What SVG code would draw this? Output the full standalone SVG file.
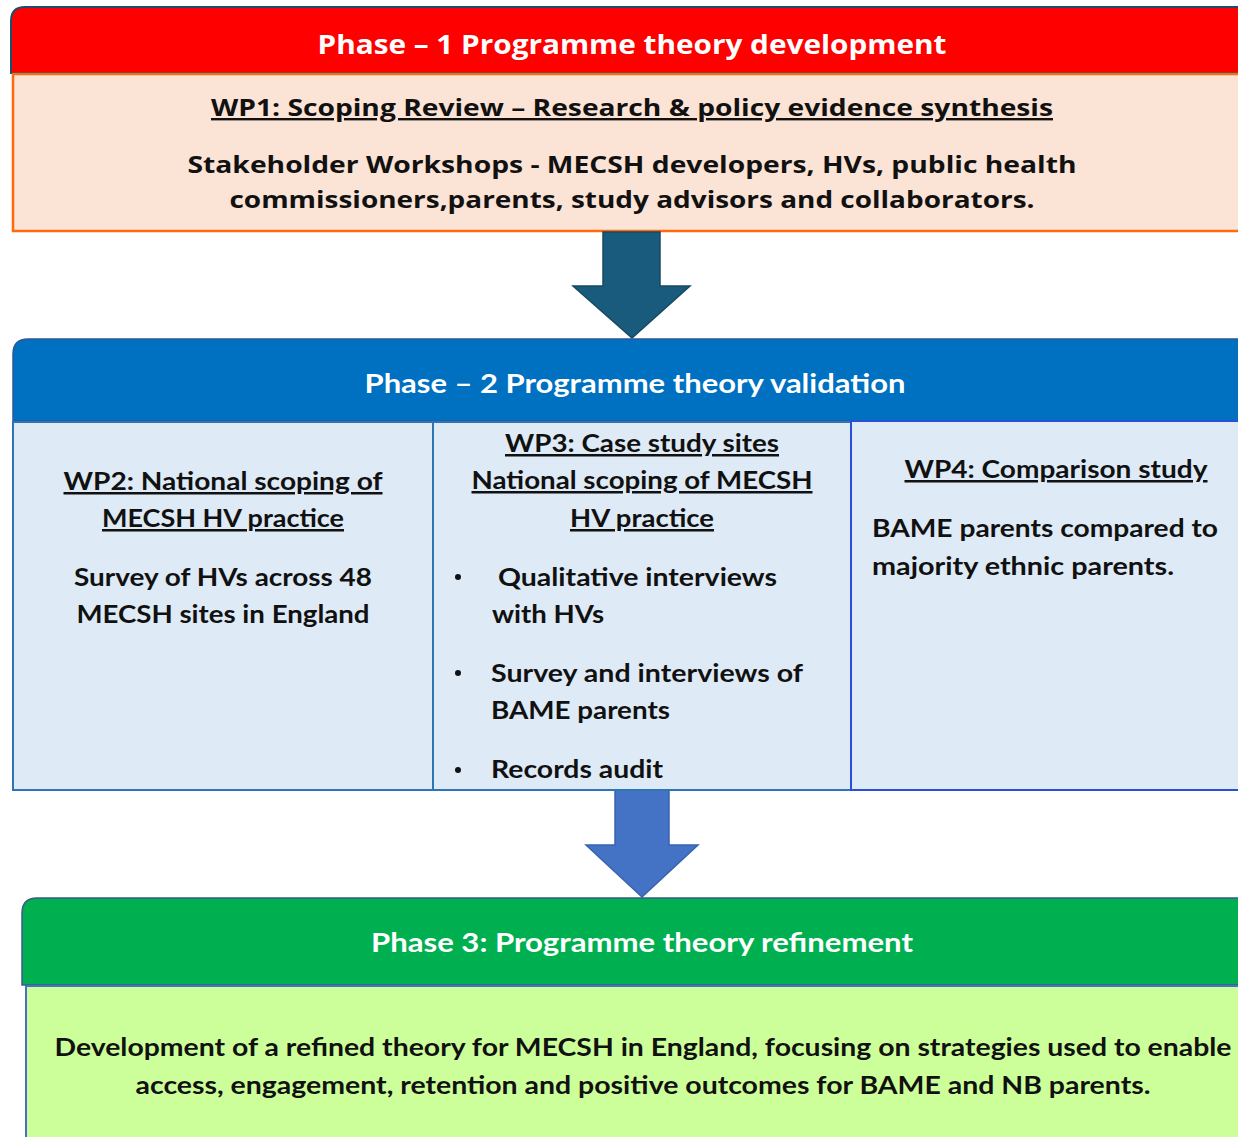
<svg xmlns="http://www.w3.org/2000/svg" width="1238" height="1137" viewBox="0 0 1238 1137">
<style>
.h1{font-family:"Open Sans","Noto Sans",sans-serif;font-weight:700;font-size:27px;fill:#fff}
.a{font-family:"Open Sans","Noto Sans",sans-serif;font-weight:700;font-size:24px;fill:#111}
.h{font-family:Lato,"Liberation Sans",sans-serif;font-weight:700;font-size:27px;fill:#fff}
.t{font-family:Lato,"Liberation Sans",sans-serif;font-weight:700;font-size:25px;fill:#111}
.u{text-decoration:underline}
.box{fill:#DEEAF6;stroke:#2E75B6;stroke-width:2}
</style>
<rect width="1238" height="1137" fill="#fff"/>
<g id="phase1">
<path d="M11,73 V21 Q11,7 25,7 H1260 V73 Z" fill="#FF0000" stroke="#1E4D6B" stroke-width="2"/>
<text class="h1" x="632" y="54" text-anchor="middle" textLength="629" lengthAdjust="spacingAndGlyphs">Phase – 1 Programme theory development</text>
</g>
<g id="wp1">
<rect x="13" y="74" width="1250" height="157" fill="#FBE3D6" stroke="#FF6A0F" stroke-width="2.5"/>
<text class="a u" x="632" y="116" text-anchor="middle" textLength="842" lengthAdjust="spacingAndGlyphs">WP1: Scoping Review – Research &amp; policy evidence synthesis</text>
<text class="a" x="632" y="173" text-anchor="middle" textLength="889" lengthAdjust="spacingAndGlyphs">Stakeholder Workshops - MECSH developers, HVs, public health</text>
<text class="a" x="632" y="208" text-anchor="middle" textLength="805" lengthAdjust="spacingAndGlyphs">commissioners,parents, study advisors and collaborators.</text>
</g>
<g id="connectors">
<path d="M603,232 H660 V286 H690 L632,338 L573,286 H603 Z" fill="#195B7C" stroke="#164A63" stroke-width="1.5"/>
<path d="M615,790 H669 V845 H698 L642,897 L586,845 H615 Z" fill="#4472C4" stroke="#3A63AE" stroke-width="1.5"/>
</g>
<g id="phase2">
<path d="M13,421 V354 Q13,339 28,339 H1260 V421 Z" fill="#0070C0" stroke="#2F5597" stroke-width="1.5"/>
<text class="h" x="635" y="393" text-anchor="middle" textLength="541" lengthAdjust="spacingAndGlyphs">Phase – 2 Programme theory validation</text>
</g>
<g id="wp2">
<rect class="box" x="13" y="422" width="420" height="368"/>
<text class="t u" x="223" y="490" text-anchor="middle" textLength="319" lengthAdjust="spacingAndGlyphs">WP2: National scoping of</text>
<text class="t u" x="223" y="527" text-anchor="middle" textLength="242" lengthAdjust="spacingAndGlyphs">MECSH HV practice</text>
<text class="t" x="223" y="586" text-anchor="middle" textLength="298" lengthAdjust="spacingAndGlyphs">Survey of HVs across 48</text>
<text class="t" x="223" y="623" text-anchor="middle" textLength="293" lengthAdjust="spacingAndGlyphs">MECSH sites in England</text>
</g>
<g id="wp3">
<rect class="box" x="433" y="422" width="418" height="368"/>
<text class="t u" x="642" y="452" text-anchor="middle" textLength="274" lengthAdjust="spacingAndGlyphs">WP3: Case study sites</text>
<text class="t u" x="642" y="489" text-anchor="middle" textLength="341" lengthAdjust="spacingAndGlyphs">National scoping of MECSH</text>
<text class="t u" x="642" y="527" text-anchor="middle" textLength="144" lengthAdjust="spacingAndGlyphs">HV practice</text>
<circle cx="458" cy="577" r="3" fill="#111"/>
<text class="t" x="498" y="586" textLength="279" lengthAdjust="spacingAndGlyphs">Qualitative interviews</text>
<text class="t" x="492" y="623" textLength="112" lengthAdjust="spacingAndGlyphs">with HVs</text>
<circle cx="458" cy="673" r="3" fill="#111"/>
<text class="t" x="491" y="682" textLength="312" lengthAdjust="spacingAndGlyphs">Survey and interviews of</text>
<text class="t" x="491" y="719" textLength="179" lengthAdjust="spacingAndGlyphs">BAME parents</text>
<circle cx="458" cy="770" r="3" fill="#111"/>
<text class="t" x="491" y="778" textLength="172" lengthAdjust="spacingAndGlyphs">Records audit</text>
</g>
<g id="wp4">
<rect x="851" y="421" width="410" height="369" fill="#DEEAF6" stroke="#2A4FD6" stroke-width="2"/>
<text class="t u" x="1056" y="478" text-anchor="middle" textLength="303" lengthAdjust="spacingAndGlyphs">WP4: Comparison study</text>
<text class="t" x="872" y="537" textLength="346" lengthAdjust="spacingAndGlyphs">BAME parents compared to</text>
<text class="t" x="872" y="575" textLength="302" lengthAdjust="spacingAndGlyphs">majority ethnic parents.</text>
</g>
<g id="phase3">
<path d="M22,985 V913 Q22,898 37,898 H1260 V985 Z" fill="#00B050" stroke="#3B5A8A" stroke-width="1.5"/>
<text class="h" x="642" y="952" text-anchor="middle" textLength="542" lengthAdjust="spacingAndGlyphs">Phase 3: Programme theory refinement</text>
</g>
<g id="phase3-body">
<rect x="26" y="986" width="1240" height="160" fill="#CCFF99" stroke="#4472C4" stroke-width="2"/>
<text class="t" x="643" y="1056" text-anchor="middle" textLength="1177" lengthAdjust="spacingAndGlyphs">Development of a refined theory for MECSH in England, focusing on strategies used to enable</text>
<text class="t" x="643" y="1094" text-anchor="middle" textLength="1015" lengthAdjust="spacingAndGlyphs">access, engagement, retention and positive outcomes for BAME and NB parents.</text>
</g>
</svg>
